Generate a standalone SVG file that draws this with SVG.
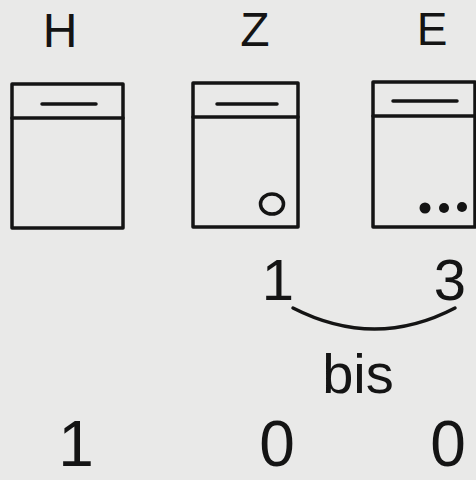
<svg xmlns="http://www.w3.org/2000/svg" width="476" height="480" viewBox="0 0 476 480">
<style>
.ln{fill:none;stroke:#141414;stroke-width:3.5;stroke-linecap:round;stroke-linejoin:round}
.dot{fill:#141414}
.t{font-family:"Liberation Sans",Arial,sans-serif;fill:#141414;text-anchor:middle}
</style>
<rect width="476" height="480" fill="#e9e9e8"/>
<g id="label-H"><text class="t" x="60" y="47" font-size="48">H</text></g>
<g id="label-Z"><text class="t" x="255" y="46" font-size="48">Z</text></g>
<g id="label-E"><text class="t" x="432" y="45" font-size="46">E</text></g>
<g id="box-H">
<rect class="ln" x="12" y="84" width="111" height="144"/>
<line class="ln" x1="12" y1="118" x2="123" y2="118"/>
<line class="ln" x1="42" y1="104" x2="96" y2="104"/>
</g>
<g id="box-Z">
<rect class="ln" x="193" y="83" width="105" height="144"/>
<line class="ln" x1="193" y1="117" x2="298" y2="117"/>
<line class="ln" x1="217" y1="104" x2="277" y2="104"/>
<ellipse class="ln" cx="272" cy="204" rx="11.5" ry="10"/>
</g>
<g id="box-E">
<rect class="ln" x="373" y="82" width="102" height="145"/>
<line class="ln" x1="373" y1="116" x2="475" y2="116"/>
<line class="ln" x1="393" y1="101" x2="457" y2="101"/>
<circle class="dot" cx="425" cy="208" r="5.5"/>
<circle class="dot" cx="444" cy="208" r="5"/>
<circle class="dot" cx="462" cy="207" r="5"/>
</g>
<g id="range">
<text class="t" x="278" y="300" font-size="58">1</text>
<text class="t" x="450" y="300" font-size="58">3</text>
<text class="t" x="358" y="393" font-size="56">bis</text>
</g>
<g id="connectors">
<path class="ln" d="M293 308 Q375 350 455 308"/>
</g>
<g id="result">
<text class="t" x="76" y="466" font-size="64">1</text>
<text class="t" x="277" y="466" font-size="64">0</text>
<text class="t" x="448" y="466" font-size="64">0</text>
</g>
</svg>
